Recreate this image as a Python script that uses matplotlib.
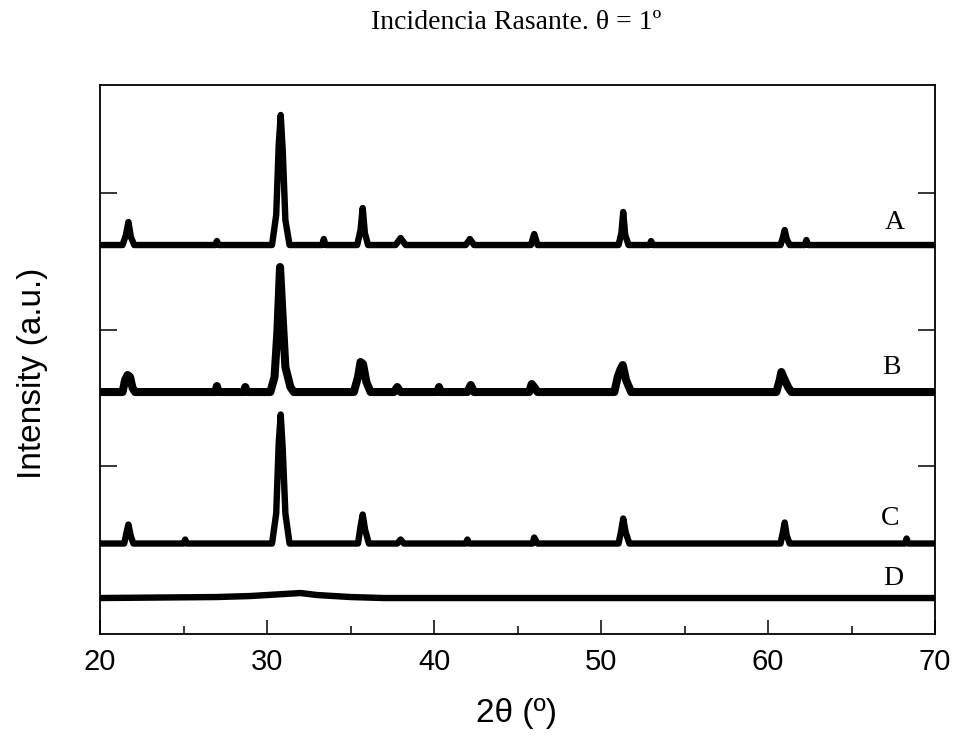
import matplotlib
matplotlib.use("Agg")
import matplotlib.pyplot as plt
from matplotlib.ticker import MultipleLocator

# Grazing-incidence XRD patterns, intensities
# (offset traces, arbitrary units = height above each baseline)
labels = ["A", "B", "C", "D"]
offsets = [389, 242, 90.5, 36]

two_theta_a = [20, 21.35, 21.55, 21.7, 21.85, 22.05, 26.9, 27.0, 27.1,
               30.3, 30.55, 30.7, 30.82, 30.94, 31.1, 31.35,
               33.3, 33.4, 33.5, 35.4, 35.6, 35.73, 35.86, 36.05,
               37.7, 38.0, 38.3, 41.9, 42.15, 42.4, 45.8, 46.0, 46.2,
               51.05, 51.22, 51.33, 51.45, 51.65, 52.9, 53.0, 53.1,
               60.75, 60.9, 61.0, 61.12, 61.3, 62.2, 62.3, 62.4, 70]
int_a = [0, 0, 10, 23, 8, 0, 0, 4, 0,
         0, 30, 100, 130, 95, 25, 0,
         0, 6, 0, 0, 15, 37, 12, 0,
         0, 7, 0, 0, 6, 0, 0, 11, 0,
         0, 12, 33, 10, 0, 0, 4, 0,
         0, 8, 15, 6, 0, 0, 5, 0, 0]

two_theta_b = [20, 21.35, 21.5, 21.65, 21.8, 21.95, 22.1, 26.9, 27.0, 27.1,
               28.6, 28.7, 28.8, 30.2, 30.45, 30.62, 30.78, 30.92, 31.1, 31.4, 31.6,
               35.2, 35.45, 35.6, 35.75, 35.95, 36.2, 37.6, 37.8, 38.0,
               40.2, 40.3, 40.4, 42.0, 42.2, 42.4, 45.7, 45.85, 46.0, 46.2,
               50.8, 51.0, 51.15, 51.3, 51.5, 51.8,
               60.5, 60.7, 60.8, 60.95, 61.2, 61.4, 70]
int_b = [0, 0, 12, 17, 15, 4, 0, 0, 6, 0,
         0, 5, 0, 0, 15, 60, 125, 80, 25, 5, 0,
         0, 15, 30, 28, 10, 0, 0, 5, 0,
         0, 5, 0, 0, 7, 0, 0, 8, 5, 0,
         0, 15, 22, 27, 12, 0,
         0, 12, 20, 14, 5, 0, 0]

two_theta_c = [20, 21.45, 21.6, 21.7, 21.85, 22.0, 25.0, 25.1, 25.2,
               30.3, 30.55, 30.7, 30.82, 30.94, 31.1, 31.35,
               35.45, 35.6, 35.73, 35.87, 36.1, 37.8, 38.0, 38.2,
               41.9, 42.0, 42.1, 45.9, 46.0, 46.2,
               51.05, 51.2, 51.33, 51.48, 51.7,
               60.75, 60.9, 61.0, 61.12, 61.3, 68.2, 68.3, 68.4, 70]
int_c = [0, 0, 12, 19, 7, 0, 0, 4, 0,
         0, 30, 100, 129, 95, 30, 0,
         0, 17, 29, 14, 0, 0, 4, 0,
         0, 4, 0, 0, 6, 0,
         0, 12, 25, 11, 0,
         0, 12, 21, 8, 0, 0, 5, 0, 0]

two_theta_d = [20, 27, 29, 31, 32, 33, 35, 37, 70]
int_d = [0, 1, 2, 4, 5, 3, 1, 0, 0]

series = [(two_theta_a, int_a), (two_theta_b, int_b),
          (two_theta_c, int_c), (two_theta_d, int_d)]
label_x = [67.6, 67.4, 67.3, 67.5]
label_y = [412, 267, 116, 56]
y_ticks = [168, 304.5, 441]

sans = ["Liberation Sans", "DejaVu Sans"]
serif = ["Liberation Serif", "DejaVu Serif"]

fig = plt.figure(figsize=(9.58, 7.40), dpi=100)
ax = fig.add_axes([0.1044, 0.1432, 0.8716, 0.7419])

widths = [4.6, 5.8, 4.6, 4.6]
for (xs, ys), off, lw in zip(series, offsets, widths):
    ax.plot(xs, [v + off for v in ys], color="black", lw=lw,
            solid_joinstyle="round", solid_capstyle="butt")

for lab, lx, ly in zip(labels, label_x, label_y):
    ax.text(lx, ly, lab, fontsize=20, family=serif, ha="center", va="center")

ax.set_xlim(20, 70)
ax.set_ylim(0, 549)
ax.xaxis.set_major_locator(MultipleLocator(10))
ax.xaxis.set_minor_locator(MultipleLocator(5))
ax.set_yticks(y_ticks)
ax.set_yticklabels([])
ax.tick_params(axis="x", which="major", direction="in", length=10, width=1.1,
               labelsize=21, pad=10)
ax.tick_params(axis="x", which="minor", direction="in", length=6, width=1.1)
ax.tick_params(axis="y", direction="in", length=12, width=1.1,
               left=True, right=True)
for lab in ax.get_xticklabels():
    lab.set_family(sans)
for sp in ax.spines.values():
    sp.set_linewidth(1.3)

fig.text(0.034, 0.495, "Intensity (a.u.)", rotation=90, fontsize=24,
         family=sans, ha="center", va="center")
fig.text(0.539, 0.036, "2θ (º)", fontsize=24, family=sans,
         ha="center", va="center")
fig.text(0.539, 0.970, "Incidencia Rasante. θ = 1º", fontsize=20,
         family=serif, ha="center", va="center")

fig.savefig("out.png", dpi=100)
